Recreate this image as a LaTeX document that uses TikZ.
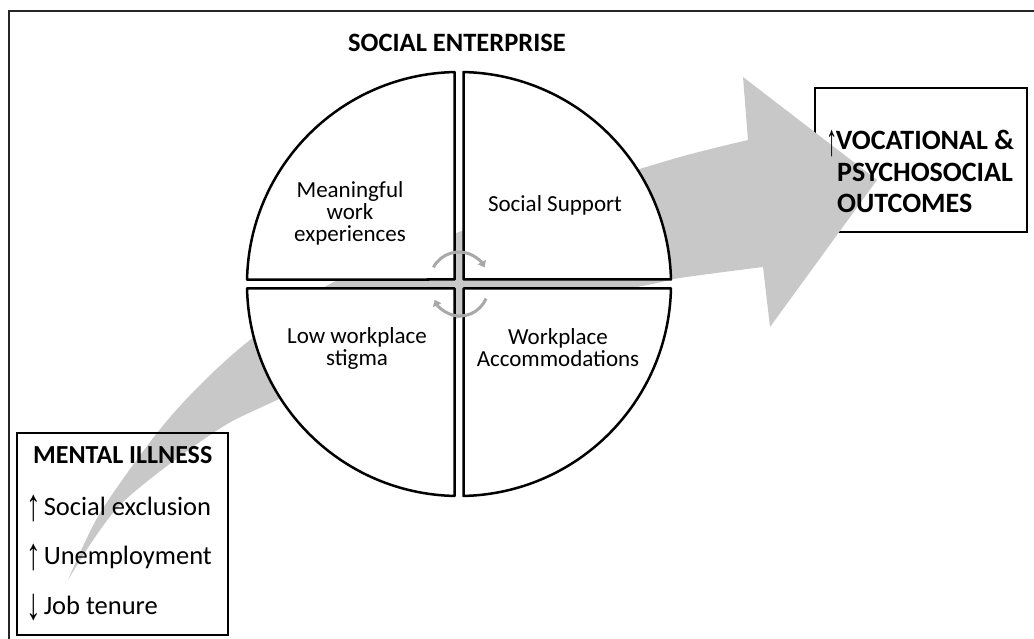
\documentclass[tikz,border=0pt]{standalone}
\usepackage{fontspec}
\usepackage{graphicx}
\setmainfont{Carlito}
\newfontfamily\arrowfont{Liberation Sans}
\usetikzlibrary{arrows.meta}
\definecolor{bandgray}{RGB}{200,200,200}
\definecolor{cyclegray}{RGB}{168,168,168}
\newcommand{\uparr}{\raisebox{-5pt}{\scalebox{1.1}[1.7]{\arrowfont\mdseries ↑}}\kern3pt}
\newcommand{\downarr}{\raisebox{-5pt}{\scalebox{1.1}[1.7]{\arrowfont\mdseries ↓}}\kern3pt}
\newcommand{\outarr}{\raisebox{-6pt}{\scalebox{0.8}[1.6]{\arrowfont\mdseries ↑}}\kern-1.5pt}
\tikzset{
  quad/.style={draw=black, fill=white, line width=2.5pt, line join=round},
  box/.style={draw=black, line width=2.5pt},
  cyc/.style={draw=cyclegray, line width=3pt, -{Triangle[width=9pt,length=6pt]}},
  qtext/.style={align=center, font=\fontsize{23}{22}\selectfont, inner sep=0pt},
  btext/.style={anchor=base west, font=\fontsize{26.5}{30}\selectfont, inner sep=0pt},
  otext/.style={anchor=base west, font=\fontsize{28}{30}\selectfont\bfseries, inner sep=0pt}
}
\begin{document}
\begin{tikzpicture}[x=1pt,y=-1pt]
\useasboundingbox (0,0) rectangle (1034,639);
% frame
\draw[line width=2pt, black!85] (9,639) -- (9,11) -- (1034,11);
% outcome box border (under the arrow)
\draw[box] (815,88) rectangle (1027,232);
% big gray arrow
\fill[bandgray] plot[smooth] coordinates {(68,580) (100,513) (157,433) (200,385) (250,340) (330,284) (459,232) (580,188) (680,157) (748,140)}
  -- (743,77) -- (877,180) -- (770,327) --
  plot[smooth] coordinates {(763,267) (680,278) (637,287) (459,318) (277,400) (213,433) (120,505) (68,580)} -- cycle;
% quadrants
\draw[quad] (463.5,279.5) -- (670.95,279.5) arc[start angle=-1.216, end angle=-88.784, radius=212] -- cycle;
\draw[quad] (454.5,279.5) -- (454.5,72.05) arc[start angle=-91.216, end angle=-178.784, radius=212] -- cycle;
\draw[quad] (454.5,288.5) -- (247.05,288.5) arc[start angle=178.784, end angle=91.216, radius=212] -- cycle;
\draw[quad] (463.5,288.5) -- (463.5,495.95) arc[start angle=88.784, end angle=1.216, radius=212] -- cycle;
% cycle arrows
\coordinate (cu) at (459,281);
\coordinate (cl) at (460,288);
\draw[cyc] (cu) ++(-152:29) arc[start angle=-152, end angle=-28, radius=29];
\draw[cyc] (cl) ++(22:28) arc[start angle=22, end angle=155, radius=28];
% mental illness box
\draw[box] (17,433) rectangle (228,635);
% texts
\node[anchor=base, font=\fontsize{26.5}{30}\selectfont\bfseries, inner sep=0pt] (title) at (457,52) {SOCIAL ENTERPRISE};
\node[qtext] (q1) at (350,213) {Meaningful\\work\\experiences};
\node[qtext] (q2) at (555,205) {Social Support};
\node[qtext] (q3) at (357,348) {Low workplace\\stigma};
\node[qtext] (q4) at (558,348) {Workplace\\Accommodations};
\node[btext, font=\fontsize{26}{30}\selectfont\bfseries] (mi) at (33,463) {MENTAL ILLNESS};
\node[btext] (m1) at (26,515) {\uparr Social exclusion};
\node[btext] (m2) at (26,564) {\uparr Unemployment};
\node[btext] (m3) at (26,614) {\downarr Job tenure};
\node[otext] (o1) at (826,150) {\outarr VOCATIONAL \&};
\node[otext] (o2) at (837,182) {PSYCHOSOCIAL};
\node[otext] (o3) at (837,213) {OUTCOMES};
\end{tikzpicture}
\end{document}
